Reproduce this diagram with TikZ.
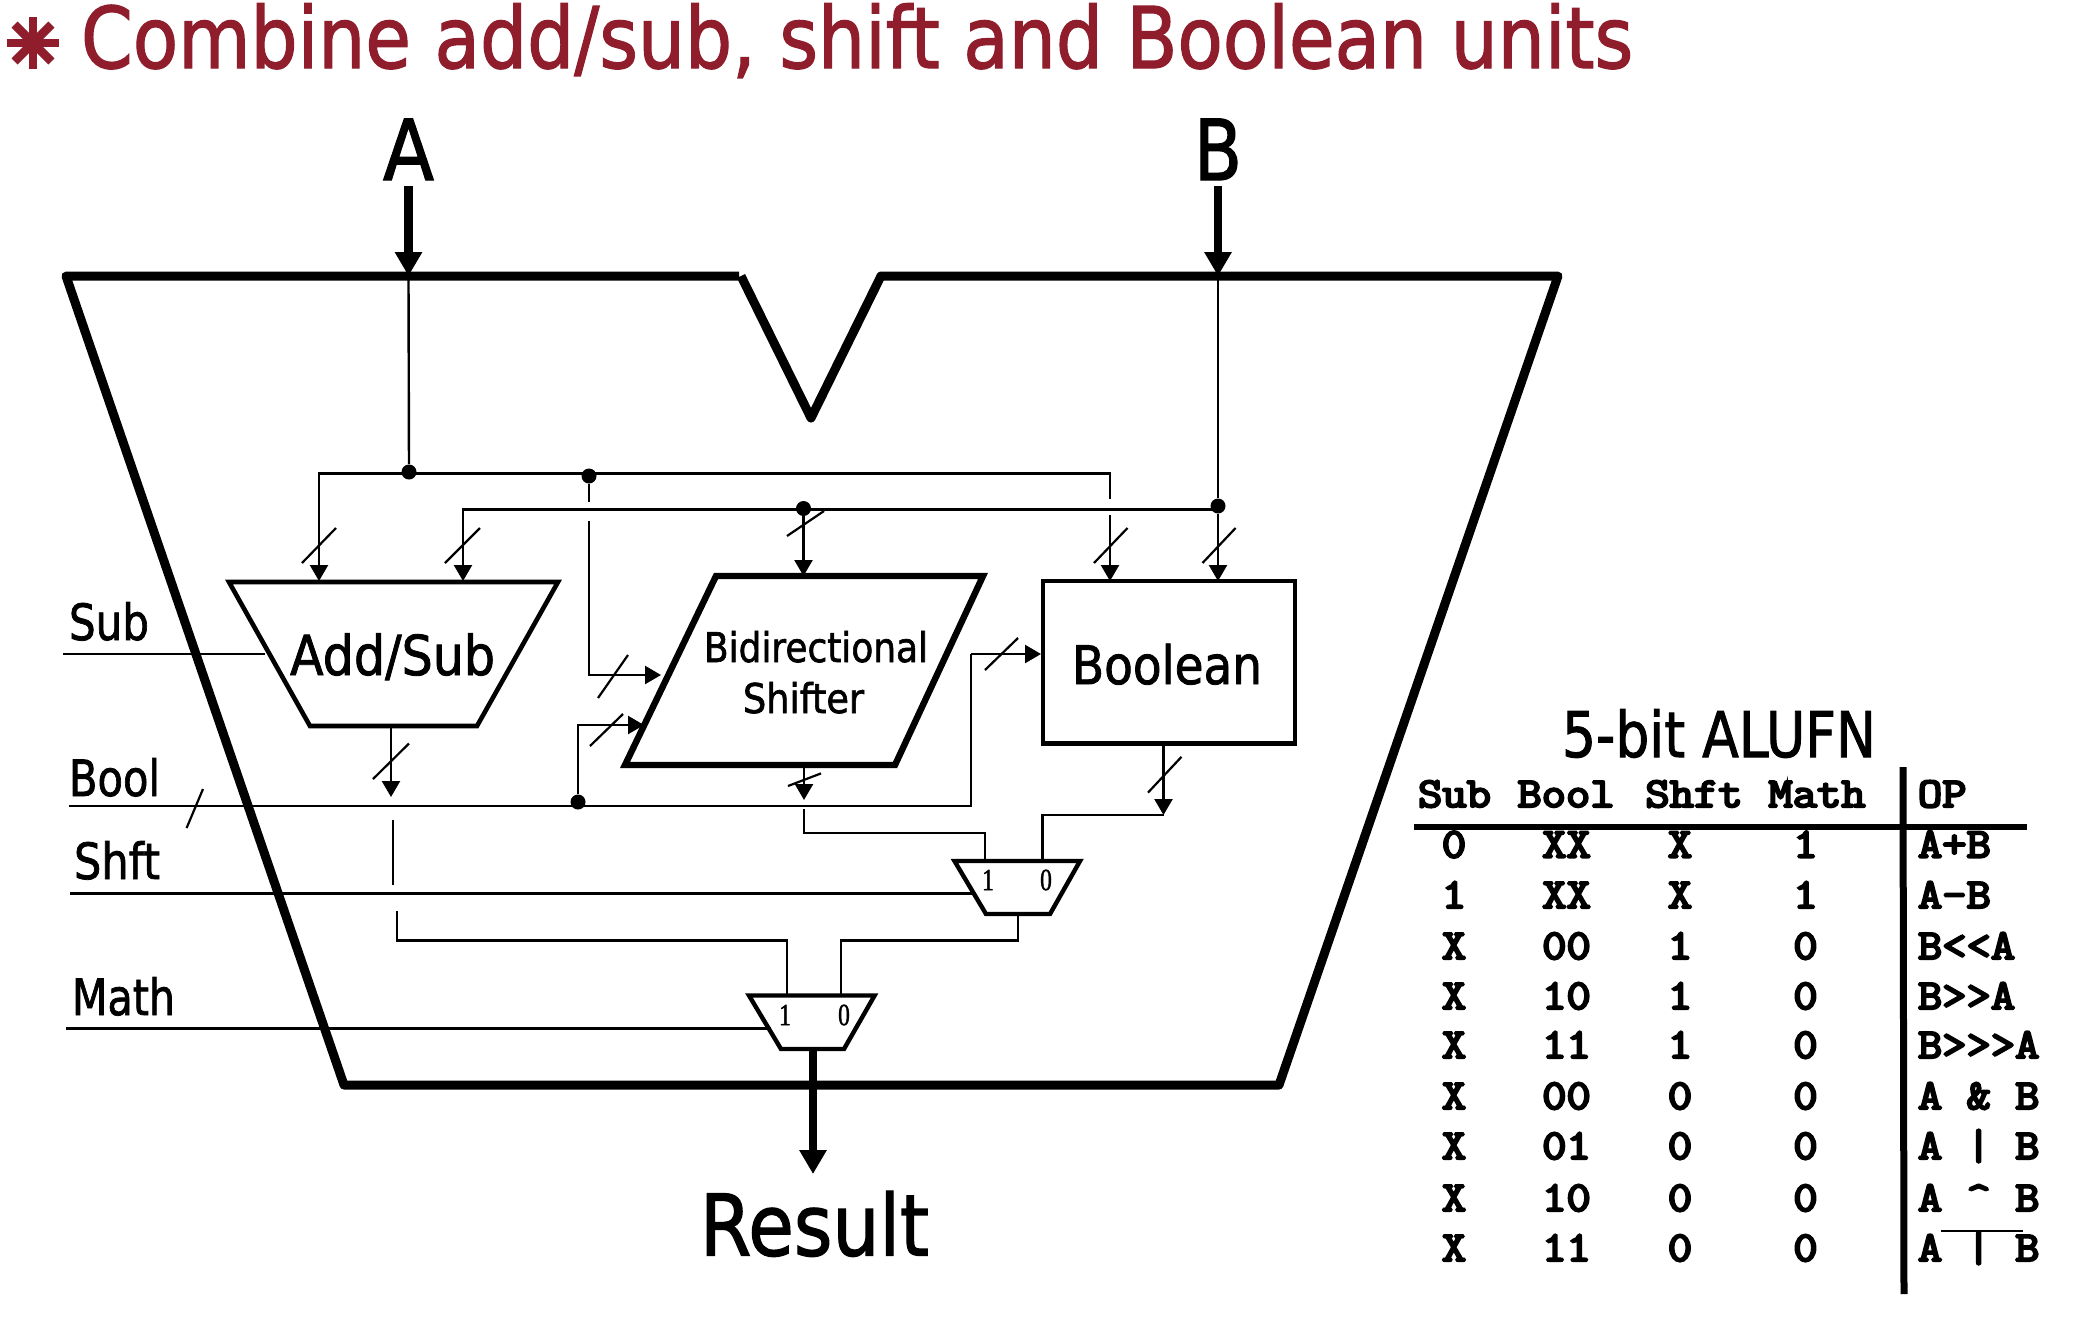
\documentclass[tikz,border=0pt]{standalone}
\usepackage{fontspec}
\usepackage{graphicx}
\usetikzlibrary{arrows.meta}
\setmainfont[FakeBold=1.6]{DejaVu Sans}
\newfontfamily\dig[FakeBold=1.6]{Liberation Serif}
\newfontfamily\tblfont[FakeBold=5]{Latin Modern Mono}
\newlength{\px}\setlength{\px}{0.5pt}
\newcommand\fs[1]{\fontsize{#1}{#1}\selectfont}
\newcommand\wt[2]{\resizebox{#1\px}{\height}{#2}}
\definecolor{titlered}{HTML}{8F1D2B}
\tikzset{
  x=0.5pt,y=-0.5pt,
  lbl/.style={inner sep=0pt,outer sep=0pt,anchor=base west,text=black},
  wire/.style={line width=1.2pt,draw=black},
  wirearrow/.style={wire,-{Triangle[width=9pt,length=8pt]}},
  fatarrow/.style={line width=4.2pt,draw=black,-{Triangle[width=13pt,length=12pt]}},
  tick/.style={line width=1.1pt,draw=black},
  outline/.style={line width=4.5pt,draw=black,line join=round},
  muxbox/.style={line width=2.2pt,draw=black,line join=miter},
  dotj/.style={circle,fill=black,inner sep=0pt,minimum size=7.5pt},
  tcell/.style={inner sep=0pt,anchor=base,font=\tblfont\fs{23.6}},
  muxd/.style={inner sep=0pt,font=\dig\fs{14}},
  spoke/.style={line width=4.4pt,draw=titlered},
}
\newcommand\tc[1]{\scalebox{1}[.9]{#1}}
\begin{document}
\begin{tikzpicture}
\useasboundingbox (0,0) rectangle (2078,1340);
\fill[white] (0,0) rectangle (2078,1340);

% title
\coordinate (bullet) at (33,43);
\foreach \ang in {0,45,90,135}{
  \draw[spoke] (bullet) ++(\ang:26) -- ++(\ang+180:52);
}
\node[lbl,text=titlered,font=\fs{42.5}] (title) at (81,68) {\wt{1552}{Combine add/sub, shift and Boolean units}};

% inputs
\node[lbl,font=\fs{42}] (Alab) at (383,180) {\wt{51}{A}};
\node[lbl,font=\fs{42}] (Blab) at (1194,180) {\wt{48}{B}};
\node[lbl,font=\fs{42.5}] (Reslab) at (700,1255.5) {\wt{229}{Result}};

% ALU outline
\draw[outline] (739,276) -- (66,276) -- (344,1085) -- (1279,1085) -- (1558,276) -- (881,276) -- (811,418) -- (741,276);

% units
\draw[line width=2.3pt,line join=miter] (229,582) -- (558,582) -- (477,726) -- (310,726) -- cycle;
\draw[line width=3.2pt,line join=miter] (716,576) -- (983,576) -- (895,765) -- (625,765) -- cycle;
\draw[line width=2.4pt] (1043,581) rectangle (1295,743.5);
\draw[muxbox] (954.5,861) -- (1080,861) -- (1050,914) -- (986,914) -- cycle;
\draw[muxbox] (749,995.5) -- (874.6,995.5) -- (844,1049) -- (781,1049) -- cycle;

\node[lbl,font=\fs{27.5}] (addsub) at (290,675) {\wt{205}{Add/Sub}};
\node[lbl,font=\fs{20.5}] (bidir) at (704,662) {\wt{224}{Bidirectional}};
\node[lbl,font=\fs{20.5}] (shifter) at (743,713) {\wt{121}{Shifter}};
\node[lbl,font=\fs{26.5}] (boolean) at (1072,684) {\wt{190}{Boolean}};
\node[lbl,font=\fs{31.5}] (alufn) at (1562,757) {\wt{314}{5-bit ALUFN}};

% control labels
\node[lbl,font=\fs{25}] (sublab) at (69,640) {\wt{80}{Sub}};
\node[lbl,font=\fs{25}] (boollab) at (69,796) {\wt{91}{Bool}};
\node[lbl,font=\fs{25}] (shftlab) at (74,879) {\wt{86}{Shft}};
\node[lbl,font=\fs{25}] (mathlab) at (72,1015) {\wt{103}{Math}};

% mux digits
\node[muxd] (m1a) at (988,880) {\scalebox{.85}[1.1]{1}};
\node[muxd] (m1b) at (1046,880) {\scalebox{.85}[1.1]{0}};
\node[muxd] (m2a) at (785,1015) {\scalebox{.85}[1.1]{1}};
\node[muxd] (m2b) at (844,1015) {\scalebox{.85}[1.1]{0}};

% named points
\coordinate (aTop) at (408.5,186);
\coordinate (aEdge) at (408.5,276);
\coordinate (bTop) at (1218,186);
\coordinate (bEdge) at (1218,276);
\node[dotj] (ja) at (409,472) {};
\node[dotj] (jb) at (1218,506) {};
\node[dotj] (jc) at (589,476) {};
\node[dotj] (jd) at (803.5,508.5) {};
\node[dotj] (je) at (578,802) {};
\coordinate (a1) at (319,473.5);
\coordinate (a1e) at (319,581);
\coordinate (a2) at (1110,473.5);
\coordinate (a2g) at (1110,499);
\coordinate (a3) at (1110,515);
\coordinate (a3e) at (1110,581);
\coordinate (b1) at (463,509.5);
\coordinate (b1e) at (463,581);
\coordinate (bEnd) at (1218,581);
\coordinate (dEnd) at (803.5,576);
\coordinate (c1) at (589,502);
\coordinate (c2) at (589,520.5);
\coordinate (c3) at (589,675);
\coordinate (c4) at (661,675);
\coordinate (e1) at (578,725);
\coordinate (e2) at (644,725);
\coordinate (boolIn) at (69,806);
\coordinate (boolC) at (971,806);
\coordinate (boolU) at (971,654);
\coordinate (boolE) at (1041,654);
\coordinate (subIn) at (63,654);
\coordinate (subE) at (265,654);
\coordinate (shftIn) at (70,893.5);
\coordinate (shftE) at (973,893.5);
\coordinate (mathIn) at (66,1028.5);
\coordinate (mathE) at (771,1028.5);
\coordinate (asO) at (391,726);
\coordinate (asE) at (391,797);
\coordinate (asG1) at (393,820);
\coordinate (asG2) at (393,885);
\coordinate (asH1) at (397,911);
\coordinate (asH2) at (397,940.5);
\coordinate (asH3) at (787,940.5);
\coordinate (asH4) at (787,995);
\coordinate (m2r) at (841,995);
\coordinate (m2r2) at (841,940.5);
\coordinate (m1o2) at (1018,940.5);
\coordinate (m1o) at (1018,914);
\coordinate (shO) at (804,765);
\coordinate (shE) at (804,800);
\coordinate (sh1) at (804,809);
\coordinate (sh2) at (804,833);
\coordinate (sh3) at (985,833);
\coordinate (sh4) at (985,861);
\coordinate (boO) at (1163.5,743.5);
\coordinate (boE) at (1163.5,815);
\coordinate (bo2) at (1042.5,815);
\coordinate (bo3) at (1042.5,861);
\coordinate (m2o) at (813,1049);
\coordinate (resE) at (813,1174);

% thick arrows
\draw[fatarrow] (aTop) -- (aEdge);
\draw[fatarrow] (bTop) -- (bEdge);
\draw[fatarrow] (m2o) -- (resE);

% wires
\draw[wire] (aEdge) -- (ja);
\draw[wire] (bEdge) -- (jb);
\draw[wirearrow] (jb) -- (bEnd);
\draw[wirearrow] (ja |- a1) -- (a1) -- (a1e);
\draw[wire] (a1) -- (a2) -- (a2g);
\draw[wirearrow] (a3) -- (a3e);
\draw[wirearrow] (jb.center |- b1) -- (b1) -- (b1e);
\draw[wire] (jc) -- (c1);
\draw[wirearrow] (c2) -- (c3) -- (c4);
\draw[wirearrow] (je) -- (e1) -- (e2);
\draw[wirearrow] (jd) -- (dEnd);
\draw[wire] (boolIn) -- (boolC) -- (boolU);
\draw[wirearrow] (boolU) -- (boolE);
\draw[wire] (subIn) -- (subE);
\draw[wire] (shftIn) -- (shftE);
\draw[wire] (mathIn) -- (mathE);
\draw[wirearrow] (asO) -- (asE);
\draw[wire] (asG1) -- (asG2);
\draw[wire] (asH1) -- (asH2) -- (asH3) -- (asH4);
\draw[wire] (m2r) -- (m2r2) -- (m1o2) -- (m1o);
\draw[wirearrow] (shO) -- (shE);
\draw[wire] (sh1) -- (sh2) -- (sh3) -- (sh4);
\draw[wirearrow] (boO) -- (boE);
\draw[wire] (boE) -- (bo2) -- (bo3);

% bus ticks
\draw[tick] (302,563) -- (336,528);
\draw[tick] (445,563) -- (480,528);
\draw[tick] (787,536) -- (824,511);
\draw[tick] (1094,563) -- (1127.5,528);
\draw[tick] (1202.5,563) -- (1235.6,528);
\draw[tick] (373,779) -- (409,743.5);
\draw[tick] (788,786) -- (821,773.4);
\draw[tick] (1148,792.6) -- (1181.5,756.8);
\draw[tick] (186.6,828) -- (203,789);
\draw[tick] (598,698) -- (628,655);
\draw[tick] (590,746) -- (623,714);
\draw[tick] (985,670) -- (1018,638);

% table
\foreach \n/\t/\cx in {h1/Sub/1454.5,h2/Bool/1566,h3/Shft/1694,h4/Math/1817}{
  \node[tcell] (\n) at (\cx,807) {\tc{\t}};
}
\node[tcell,anchor=base west] (h5) at (1917.5,807) {\tc{OP}};
\foreach \r/\yy/\a/\b/\c/\d/\op in {
 1/857.5/0/XX/X/1/A+B,
 2/908/1/XX/X/1/A–B,
 3/959/X/00/1/0/B<{}<A,
 4/1009/X/10/1/0/B>{}>A,
 5/1058/X/11/1/0/B>{}>{}>A,
 6/1109/X/00/0/0/A\ \&\ B,
 7/1159/X/01/0/0/A\ |\ B,
 8/1211/X/10/0/0/A\ \^{}\ B,
 9/1261/X/11/0/0/A\ |\ B}{
  \node[tcell] (ra\r) at (1454,\yy) {\tc{\a}};
  \node[tcell] (rb\r) at (1566.5,\yy) {\tc{\b}};
  \node[tcell] (rc\r) at (1680,\yy) {\tc{\c}};
  \node[tcell] (rd\r) at (1805.5,\yy) {\tc{\d}};
  \node[tcell,anchor=base west] (re\r) at (1917.5,\yy) {\tc{\op}};
}
\draw[line width=3pt] (1414,827) -- (2027,827);
\draw[line width=3.5pt] (1903,767) -- (1904,1294);
\draw[line width=1.2pt] (1940.5,1231) -- (2022.5,1231);
\end{tikzpicture}
\end{document}
